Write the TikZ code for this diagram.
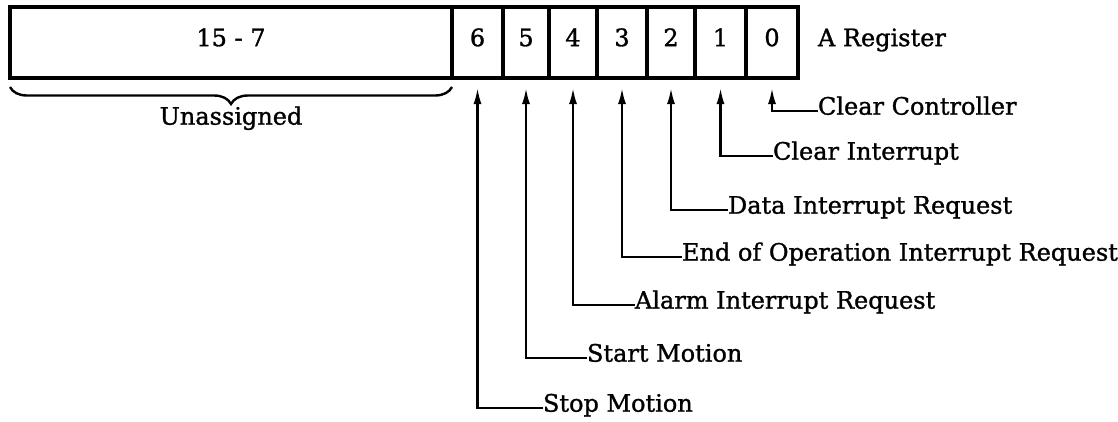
\documentclass[tikz,border=0pt]{standalone}
\usepackage{fontspec}
\setmainfont{DejaVu Serif}[FakeBold=1.2]
\usetikzlibrary{positioning,decorations.pathreplacing,arrows.meta}

\begin{document}
\begin{tikzpicture}[x=1pt,y=-1pt,
    lbl/.style={inner sep=0pt,outer sep=0pt,font=\fontsize{24}{26}\selectfont,text height=0.73em,text depth=0pt},
    cell/.style={lbl,draw,line width=3.2pt,minimum height=71pt},
    arr/.style={line width=2.2pt,-{Latex[length=16pt,width=8pt]},shorten >=10pt}]
                \useasboundingbox (0,0) rectangle (1118,421);

                % register cells
                \node[cell,minimum width=442pt] (b15) at (231,42.5) {15 - 7};
                \foreach \i/\l/\r in {6/452/503,5/503/549,4/549/597,3/597/647,2/647/695,1/695/746,0/746/798}
                    \node[cell,minimum width={(\r-\l)*1pt}] (b\i) at ({(\l+\r)/2},42.5) {\i};
                \node[lbl,right=20pt of b0] (areg) {A Register};

                \draw[line width=2.4pt,decorate,decoration={brace,mirror,amplitude=17pt}]
                    ([yshift=-9pt]b15.south west) -- ([yshift=-9pt]b15.south east);
                \node[lbl] (unas) at (231,121) {Unassigned};

                % bit labels
                \node[lbl,anchor=west] (l0) at (818,111) {Clear Controller};
                \node[lbl,anchor=west] (l1) at (773,156) {Clear Interrupt};
                \node[lbl,anchor=west] (l2) at (728,210) {Data Interrupt Request};
                \node[lbl,anchor=west] (l3) at (682,257) {End of Operation Interrupt Request};
                \node[lbl,anchor=west] (l4) at (635,305) {Alarm Interrupt Request};
                \node[lbl,anchor=west] (l5) at (587,358) {Start Motion};
                \node[lbl,anchor=west] (l6) at (543,408) {Stop Motion};

                \foreach \i in {0,...,6}
                    \draw[arr] (l\i.west) -| (b\i.south);
            \end{tikzpicture}
\end{document}
